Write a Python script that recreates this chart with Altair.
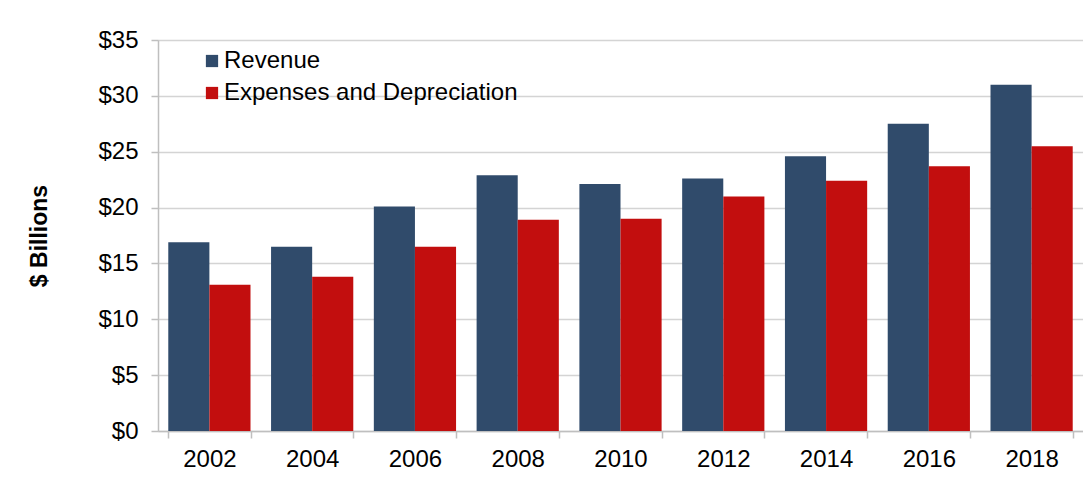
import altair as alt
import pandas as pd

years = ["2002", "2004", "2006", "2008", "2010", "2012", "2014", "2016", "2018"]
revenue = [16.9, 16.5, 20.1, 22.9, 22.1, 22.6, 24.6, 27.5, 31.0]
expenses = [13.1, 13.8, 16.5, 18.9, 19.0, 21.0, 22.4, 23.7, 25.5]
series = ["Revenue", "Expenses and Depreciation"]
colors = ["#304B6B", "#C20E0E"]
y_ticks = [0, 5, 10, 15, 20, 25, 30, 35]

rows = []
for i, y in enumerate(years):
    rows.append({"year": y, "series": series[0], "value": revenue[i]})
    rows.append({"year": y, "series": series[1], "value": expenses[i]})
df = pd.DataFrame(rows)

FONT = "Liberation Sans"

chart = alt.Chart(df).mark_bar().encode(
    x=alt.X("year:N", sort=years,
            scale=alt.Scale(paddingInner=0.2, paddingOuter=0.1),
            axis=alt.Axis(title=None, labelAngle=0, labelFontSize=24, labelColor="#000000",
                          labelFont=FONT, tickBand="extent", tickSize=7, tickColor="#bfbfbf",
                          domainColor="#bfbfbf", domainWidth=1.5, tickWidth=1.5,
                          labelPadding=9, grid=False)),
    xOffset=alt.XOffset("series:N", sort=series, scale=alt.Scale(paddingInner=0, paddingOuter=0)),
    y=alt.Y("value:Q", scale=alt.Scale(domain=[0, 35], nice=False),
            axis=alt.Axis(title="$ Billions", titleFontSize=23, titleFontWeight="bold",
                          titleFont=FONT, titleColor="#000000", titlePadding=46,
                          values=y_ticks, labelExpr="'$' + datum.value",
                          labelFontSize=24, labelFont=FONT, labelColor="#000000",
                          labelPadding=13, tickSize=7, tickColor="#bfbfbf", tickWidth=1.5,
                          domainColor="#bfbfbf", domainWidth=1.5,
                          gridColor="#d4d4d4", gridWidth=1.5)),
    color=alt.Color("series:N", sort=series,
                    scale=alt.Scale(domain=series, range=colors),
                    legend=alt.Legend(title=None, orient="none", legendX=42, legendY=9,
                                      symbolType="square", symbolSize=150,
                                      symbolStrokeWidth=0, labelFontSize=24,
                                      labelFont=FONT, labelColor="#000000", labelLimit=0,
                                      labelOffset=0, rowPadding=8, padding=0)),
).properties(
    width=925, height=391,
    padding={"left": 20, "top": 20, "right": 0, "bottom": 0},
).configure_view(stroke=None).configure(background="#ffffff")

chart.save("out.html", embed_options={"renderer": "svg", "actions": False})
